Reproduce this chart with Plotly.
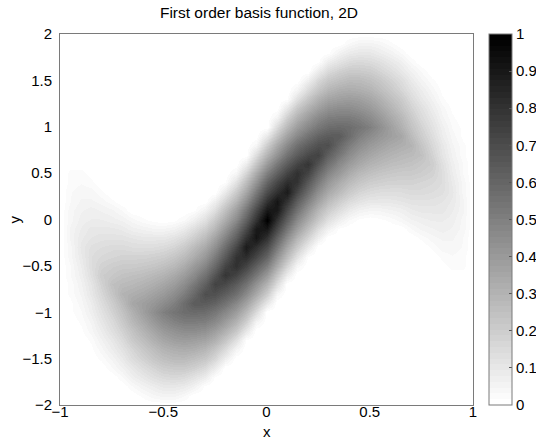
import plotly.graph_objects as go

# ---- data ----
x_values = [-1.0, -0.95, -0.9, -0.85, -0.8, -0.75, -0.7, -0.65, -0.6, -0.55, -0.5,
            -0.45, -0.4, -0.35, -0.3, -0.25, -0.2, -0.15, -0.1, -0.05, 0.0,
            0.05, 0.1, 0.15, 0.2, 0.25, 0.3, 0.35, 0.4, 0.45, 0.5,
            0.55, 0.6, 0.65, 0.7, 0.75, 0.8, 0.85, 0.9, 0.95, 1.0]
y_values = [-2.0, -1.9, -1.8, -1.7, -1.6, -1.5, -1.4, -1.3, -1.2, -1.1, -1.0,
            -0.9, -0.8, -0.7, -0.6, -0.5, -0.4, -0.3, -0.2, -0.1, 0.0,
            0.1, 0.2, 0.3, 0.4, 0.5, 0.6, 0.7, 0.8, 0.9, 1.0,
            1.1, 1.2, 1.3, 1.4, 1.5, 1.6, 1.7, 1.8, 1.9, 2.0]

# one list per x column, values listed from y=-2 (first) to y=2 (last)
z_columns = [
    [0] * 41,
    [0] * 10 + [.01, .01, .02, .02, .03, .03, .04, .04, .05, .05, .04, .04, .03, .03, .02, .02, .01, .01] + [0] * 13,
    [0] * 8 + [.01, .02, .03, .04, .05, .06, .07, .08, .09, .10, .09, .08, .07, .06, .05, .04, .03, .02, .01] + [0] * 14,
    [0] * 6 + [.01, .02, .04, .05, .07, .08, .10, .11, .13, .14, .14, .13, .11, .10, .08, .07, .05, .04, .02, .01] + [0] * 15,
    [0] * 5 + [.02, .04, .06, .08, .10, .12, .14, .16, .18, .20, .18, .16, .14, .12, .10, .08, .06, .04, .02] + [0] * 17,
    [0] * 4 + [.03, .05, .08, .10, .13, .15, .18, .20, .23, .25, .22, .20, .17, .15, .12, .10, .07, .05, .02] + [0] * 18,
    [0] * 3 + [.03, .06, .09, .12, .15, .18, .21, .24, .27, .30, .27, .24, .21, .18, .15, .12, .09, .06, .03] + [0] * 19,
    [0] * 2 + [.03, .07, .10, .14, .17, .21, .24, .28, .31, .35, .32, .28, .25, .21, .18, .14, .11, .07, .04] + [0] * 20,
    [0] * 1 + [.02, .06, .10, .14, .18, .22, .26, .30, .34, .38, .38, .34, .30, .26, .22, .18, .14, .10, .06, .02] + [0] * 20,
    [0] * 1 + [.04, .08, .13, .17, .22, .26, .31, .35, .40, .44, .41, .37, .32, .28, .23, .19, .14, .10, .05, .01] + [0] * 20,
    [0] * 1 + [.05, .10, .15, .20, .25, .30, .35, .40, .45, .50, .45, .40, .35, .30, .25, .20, .15, .10, .05] + [0] * 21,
    [0] * 1 + [.05, .10, .16, .21, .27, .32, .38, .43, .49, .54, .50, .45, .39, .34, .28, .23, .17, .12, .06, .01] + [0] * 20,
    [0] * 1 + [.03, .09, .15, .21, .27, .33, .39, .45, .51, .57, .57, .51, .45, .39, .33, .27, .21, .15, .09, .03] + [0] * 20,
    [0] * 2 + [.06, .12, .19, .25, .32, .38, .45, .51, .58, .64, .59, .53, .46, .40, .33, .27, .20, .14, .07, .01] + [0] * 19,
    [0] * 2 + [.01, .08, .15, .22, .29, .36, .43, .50, .57, .64, .69, .62, .55, .48, .41, .34, .27, .20, .13, .06] + [0] * 19,
    [0] * 3 + [.01, .08, .16, .23, .31, .38, .46, .53, .61, .68, .74, .67, .59, .52, .44, .37, .29, .22, .14, .07] + [0] * 18,
    [0] * 5 + [.07, .15, .23, .31, .39, .47, .55, .63, .71, .79, .73, .65, .57, .49, .41, .33, .25, .17, .09, .01] + [0] * 16,
    [0] * 6 + [.05, .13, .22, .30, .39, .47, .56, .64, .73, .81, .80, .72, .63, .55, .46, .38, .29, .21, .12, .04] + [0] * 15,
    [0] * 7 + [.01, .10, .19, .28, .37, .46, .55, .64, .73, .82, .89, .80, .71, .62, .53, .44, .35, .26, .17, .08] + [0] * 14,
    [0] * 9 + [.05, .15, .24, .34, .43, .53, .62, .72, .81, .91, .90, .80, .71, .61, .52, .42, .33, .23, .14, .04] + [0] * 12,
    [0] * 11 + [.1, .2, .3, .4, .5, .6, .7, .8, .9, 1.0, .9, .8, .7, .6, .5, .4, .3, .2, .1] + [0] * 11,
    [0] * 12 + [.04, .14, .23, .33, .42, .52, .61, .71, .80, .90, .91, .81, .72, .62, .53, .43, .34, .24, .15, .05] + [0] * 9,
    [0] * 14 + [.08, .17, .26, .35, .44, .53, .62, .71, .80, .89, .82, .73, .64, .55, .46, .37, .28, .19, .10, .01] + [0] * 7,
    [0] * 15 + [.04, .12, .21, .29, .38, .46, .55, .63, .72, .80, .81, .73, .64, .56, .47, .39, .30, .22, .13, .05] + [0] * 6,
    [0] * 16 + [.01, .09, .17, .25, .33, .41, .49, .57, .65, .73, .79, .71, .63, .55, .47, .39, .31, .23, .15, .07] + [0] * 5,
    [0] * 18 + [.07, .14, .22, .29, .37, .44, .52, .59, .67, .74, .68, .61, .53, .46, .38, .31, .23, .16, .08, .01] + [0] * 3,
    [0] * 19 + [.06, .13, .20, .27, .34, .41, .48, .55, .62, .69, .64, .57, .50, .43, .36, .29, .22, .15, .08, .01] + [0] * 2,
    [0] * 19 + [.01, .07, .14, .20, .27, .33, .40, .46, .53, .59, .64, .58, .51, .45, .38, .32, .25, .19, .12, .06] + [0] * 2,
    [0] * 20 + [.03, .09, .15, .21, .27, .33, .39, .45, .51, .57, .57, .51, .45, .39, .33, .27, .21, .15, .09, .03] + [0] * 1,
    [0] * 20 + [.01, .06, .12, .17, .23, .28, .34, .39, .45, .50, .54, .49, .43, .38, .32, .27, .21, .16, .10, .05] + [0] * 1,
    [0] * 21 + [.05, .10, .15, .20, .25, .30, .35, .40, .45, .50, .45, .40, .35, .30, .25, .20, .15, .10, .05] + [0] * 1,
    [0] * 20 + [.01, .05, .10, .14, .19, .23, .28, .32, .37, .41, .44, .40, .35, .31, .26, .22, .17, .13, .08, .04] + [0] * 1,
    [0] * 20 + [.02, .06, .10, .14, .18, .22, .26, .30, .34, .38, .38, .34, .30, .26, .22, .18, .14, .10, .06, .02] + [0] * 1,
    [0] * 20 + [.04, .07, .11, .14, .18, .21, .25, .28, .32, .35, .31, .28, .24, .21, .17, .14, .10, .07, .03] + [0] * 2,
    [0] * 19 + [.03, .06, .09, .12, .15, .18, .21, .24, .27, .30, .27, .24, .21, .18, .15, .12, .09, .06, .03] + [0] * 3,
    [0] * 18 + [.02, .05, .07, .10, .12, .15, .17, .20, .22, .25, .23, .20, .18, .15, .13, .10, .08, .05, .03] + [0] * 4,
    [0] * 17 + [.02, .04, .06, .08, .10, .12, .14, .16, .18, .20, .18, .16, .14, .12, .10, .08, .06, .04, .02] + [0] * 5,
    [0] * 15 + [.01, .02, .04, .05, .07, .08, .10, .11, .13, .14, .14, .13, .11, .10, .08, .07, .05, .04, .02, .01] + [0] * 6,
    [0] * 14 + [.01, .02, .03, .04, .05, .06, .07, .08, .09, .10, .09, .08, .07, .06, .05, .04, .03, .02, .01] + [0] * 8,
    [0] * 13 + [.01, .01, .02, .02, .03, .03, .04, .04, .05, .05, .04, .04, .03, .03, .02, .02, .01, .01] + [0] * 10,
    [0] * 41,
]

x_ticks = [-1, -0.5, 0, 0.5, 1]
y_ticks = [-2, -1.5, -1, -0.5, 0, 0.5, 1, 1.5, 2]
cbar_ticks = [0, 0.1, 0.2, 0.3, 0.4, 0.5, 0.6, 0.7, 0.8, 0.9, 1]
cbar_labels = ["0", "0.1", "0.2", "0.3", "0.4", "0.5", "0.6", "0.7", "0.8", "0.9", "1"]

bad = [i for i, c in enumerate(z_columns) if len(c) != len(y_values)]
if bad or len(z_columns) != len(x_values):
    raise SystemExit("bad column lengths: %s" % [(i, len(z_columns[i])) for i in bad])

# heatmap wants rows indexed by y
z_rows = [list(r) for r in zip(*z_columns)]

# 64-step reversed gray colormap
n_levels = 64
colorscale = []
for i in range(n_levels):
    g = round(255 * (1 - i / (n_levels - 1)))
    c = "rgb(%d,%d,%d)" % (g, g, g)
    colorscale.append([i / n_levels, c])
    colorscale.append([(i + 1) / n_levels, c])

FONT = "Liberation Sans, Arial, Helvetica, sans-serif"
FRAME = "#7a7a7a"

fig = go.Figure(go.Heatmap(
    x=x_values, y=y_values, z=z_rows,
    zmin=0, zmax=1, zsmooth="best",
    colorscale=colorscale,
    colorbar=dict(
        x=(489 - 60) / 413, xanchor="left", xpad=0,
        y=0.5, yanchor="middle", ypad=0, len=1, lenmode="fraction",
        thickness=23, outlinewidth=1, outlinecolor=FRAME,
        tickvals=cbar_ticks, ticktext=cbar_labels,
        ticks="inside", ticklen=3, tickcolor="#555",
        tickfont=dict(family=FONT, size=15, color="black"),
    ),
    hoverinfo="skip",
))

fig.update_layout(
    width=536, height=446,
    margin=dict(l=60, r=63, t=34, b=41, autoexpand=False),
    paper_bgcolor="white", plot_bgcolor="white",
    font=dict(family=FONT, size=15, color="black"),
    title=dict(text="First order basis function, 2D", xref="container", x=259 / 536,
               xanchor="center", yref="container", y=1 - 13 / 446, yanchor="middle",
               font=dict(family=FONT, size=15.5, color="black")),
    xaxis=dict(range=[-1, 1], tickvals=x_ticks, ticks="", showgrid=False, zeroline=False,
               showline=True, mirror=True, linecolor=FRAME, linewidth=1,
               ticklabelstandoff=-7),
    yaxis=dict(range=[-2, 2], tickvals=y_ticks, ticks="", showgrid=False, zeroline=False,
               showline=True, mirror=True, linecolor=FRAME, linewidth=1,
               ticklabelstandoff=4),
    annotations=[
        dict(text="x", xref="paper", yref="paper", x=0.5, y=(405 - 421) / 371,
             xanchor="center", yanchor="top", showarrow=False),
        dict(text="y", xref="paper", yref="paper", x=(14 - 60) / 413, y=0.5,
             xanchor="center", yanchor="middle", textangle=-90, showarrow=False),
    ],
)

fig.write_html("out.html")
